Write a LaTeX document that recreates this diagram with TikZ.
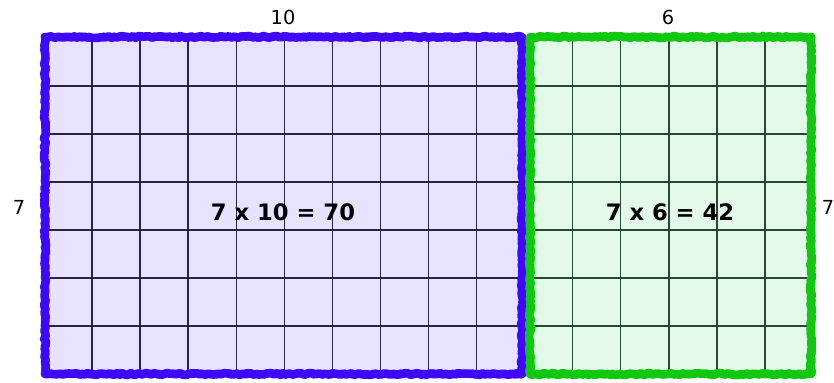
\documentclass[tikz,border=0pt]{standalone}
\usepackage{fontspec}
\setmainfont{DejaVu Sans}
\usetikzlibrary{decorations.pathmorphing}
\definecolor{crayonblue}{RGB}{62,8,250}
\definecolor{lavender}{RGB}{230,226,255}
\definecolor{crayongreen}{RGB}{16,200,16}
\definecolor{mint}{RGB}{226,248,232}
\definecolor{gridblue}{RGB}{40,34,70}
\definecolor{gridgreen}{RGB}{40,72,52}
\tikzset{
  gridline/.style={line width=1.1pt},
  crayon/.style={draw=#1, line width=6.5pt, line join=round,
    decorate, decoration={random steps, segment length=2pt, amplitude=0.7pt}},
  crayonrough/.style={draw=#1, line width=2pt, opacity=0.75, line join=round,
    decorate, decoration={random steps, segment length=1.5pt, amplitude=2.6pt}},
  sidelabel/.style={font=\fontsize{14.5}{17}\selectfont, text=black, inner sep=0pt},
  product/.style={font=\fontsize{17}{20}\selectfont\bfseries, text=black, inner sep=0pt}
}
\begin{document}
\begin{tikzpicture}[x=0.75pt,y=-0.75pt]
\useasboundingbox (0,0) rectangle (834,382);
\clip (0,0) rectangle (834,382);
% fills
\fill[lavender] (44,38) rectangle (526,374);
\fill[mint] (526,38) rectangle (813,374);
% grid lines
\foreach \i in {1,...,9}
  \draw[gridline, gridblue] ({44+48.06*\i},38) -- ({44+48.06*\i},374);
\foreach \i in {11,...,15}
  \draw[gridline, gridgreen] ({44+48.06*\i},38) -- ({44+48.06*\i},374);
\foreach \j in {1,...,6} {
  \draw[gridline, gridblue] (44,{38+48*\j}) -- (526,{38+48*\j});
  \draw[gridline, gridgreen] (526,{38+48*\j}) -- (813,{38+48*\j});
}
% crayon borders
\draw[crayon=crayonblue] (45,37) rectangle (522,374);
\draw[crayonrough=crayonblue] (45,37) rectangle (522,374);
\draw[crayon=crayongreen] (530,37) rectangle (811,374);
\draw[crayonrough=crayongreen] (530,37) rectangle (811,374);
% labels
\node[sidelabel] (top10) at (283,17) {10};
\node[sidelabel] (top6) at (668,17) {6};
\node[sidelabel] (left7) at (19,207) {7};
\node[sidelabel] (right7) at (828,207) {7};
\node[product] (prodA) at (283,212) {7 x 10 = 70};
\node[product] (prodB) at (670,212) {7 x 6 = 42};
\end{tikzpicture}
\end{document}
